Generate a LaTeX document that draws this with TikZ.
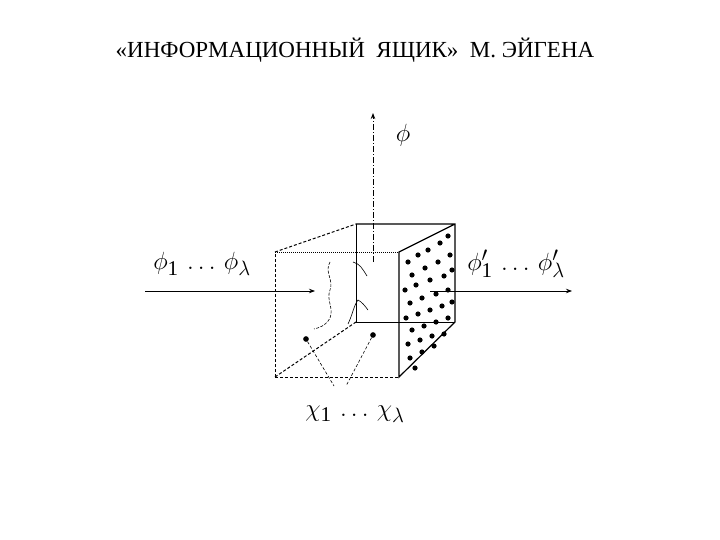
\documentclass[tikz,border=0pt]{standalone}
\usepackage{fontspec}
\setmainfont{Liberation Serif}
\usetikzlibrary{arrows.meta}
\begin{document}
\begin{tikzpicture}[x=1pt,y=-1pt,
  edge/.style={line width=1.2pt},
  dedge/.style={line width=1pt,dash pattern=on 3pt off 2pt},
  arr/.style={line width=0.8pt,-{Stealth[length=6pt]}},
  lbl/.style={inner sep=0pt,font=\fontsize{30}{30}\selectfont\itshape},
  dot/.style={circle,fill=black,inner sep=2pt}]
\useasboundingbox (0,0) rectangle (720,540);
\node[font=\fontsize{23}{23}\selectfont] (title) at (355,50) {«ИНФОРМАЦИОННЫЙ\ \ ЯЩИК»\ \ М. ЭЙГЕНА};
% cube corners
\coordinate (A) at (275,252); \coordinate (B) at (399,252);
\coordinate (C) at (399,377); \coordinate (D) at (275,377);
\coordinate (E) at (356,224); \coordinate (F) at (455,224);
\coordinate (G) at (455,322); \coordinate (H) at (356,322);
\draw[dedge] (A) -- (E); \draw[dedge] (D) -- (A); \draw[dedge] (D) -- (C);
\draw[dedge] (D) -- (H);
\draw[line width=0.8pt,dash pattern=on 1pt off 1pt] (A) -- (B);
\draw[edge] (E) -- (F) -- (G) -- (C) -- (B) -- (F);
\draw[line width=0.8pt] (E) -- (H) -- (G);
% particles on the right face
\foreach \px/\py in {408/262, 418/255, 428/250, 440/243, 448/236, 412/275, 425/268, 438/262, 450/255,
  405/290, 416/285, 430/280, 444/276, 452/270, 410/303, 422/298, 436/294, 448/290,
  406/318, 418/314, 430/310, 442/306, 452/302, 412/330, 424/326, 436/322, 448/318,
  408/344, 420/340, 432/336, 444/334, 410/358, 422/352, 434/346, 415/368}
  \fill (\px,\py) circle (2.6pt);
% arrows
\coordinate (inL) at (145,291); \coordinate (inR) at (315,291);
\coordinate (outL) at (430,291); \coordinate (outR) at (572,291);
\draw[arr] (inL) -- (inR);
\draw[arr] (outL) -- (outR);
\coordinate (vb) at (373,262); \coordinate (vt) at (373,113);
\draw[arr,dash pattern=on 6pt off 2pt on 1pt off 2pt] (vb) -- (vt);
% wavy curves inside
\draw[line width=0.6pt,dash pattern=on 3pt off 1.5pt] (330,262) .. controls (324,272) and (334,280) .. (330,290) .. controls (326,300) and (334,308) .. (330,318) .. controls (326,326) and (318,328) .. (314,329);
\draw[line width=0.6pt] (353,262) .. controls (360,264) and (362,268) .. (367,276);
\draw[line width=0.6pt] (348,324) .. controls (352,316) and (354,305) .. (358,300) .. controls (362,302) and (365,306) .. (368,310);
% chi particles
\node[dot] (p1) at (306,339) {};
\node[dot] (p2) at (373,335) {};
\coordinate (c1) at (334,386); \coordinate (c2) at (346,386);
\draw[line width=0.6pt,dash pattern=on 3pt off 2pt] (p1) -- (c1);
\draw[line width=0.6pt,dash pattern=on 3pt off 2pt] (p2) -- (c2);
% labels
\node[lbl] (phi) at (403,135) {$\phi$};
\node[lbl] (phin) at (202,264) {$\phi_{\scriptstyle\mathrm{1}}\,\ldots\,\phi_{\scriptstyle\lambda}$};
\node[lbl] (phiout) at (516,264) {$\phi'_{\scriptstyle\mathrm{1}}\,\ldots\,\phi'_{\scriptstyle\lambda}$};
\node[lbl] (chi) at (355,414) {$\chi_{\scriptstyle\mathrm{1}}\,\ldots\,\chi_{\scriptstyle\lambda}$};
\end{tikzpicture}
\end{document}
